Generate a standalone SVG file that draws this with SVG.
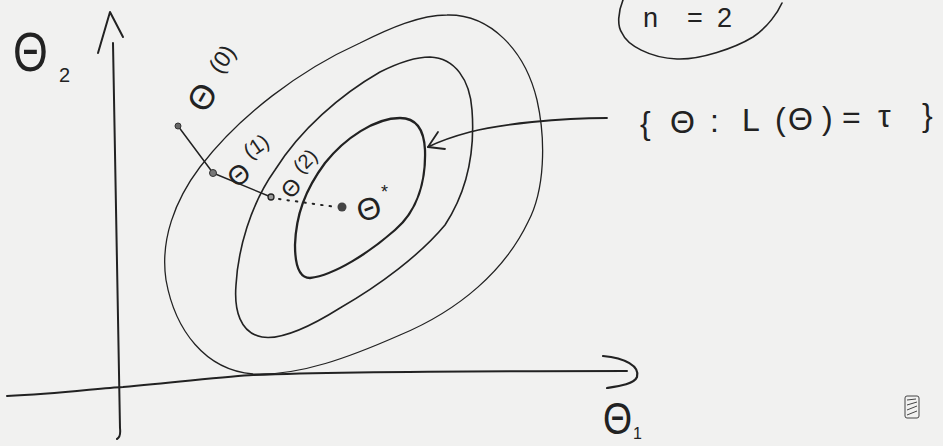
<svg xmlns="http://www.w3.org/2000/svg" width="943" height="446" viewBox="0 0 943 446">
<style>
.ink{fill:none;stroke:#222;stroke-linecap:round;stroke-linejoin:round}
.t{font-family:"Liberation Sans","DejaVu Sans",sans-serif;fill:#222}
.pt{stroke:#333;stroke-width:1}
</style>
<rect width="943" height="446" fill="#f1f1f0"/>
<g id="axes">
<path class="ink" stroke-width="2" d="M117,439 Q121,437 120,428 C118,330 116,200 113,43"/>
<path class="ink" stroke-width="2" d="M98,53 L110,12 L123,37"/>
<path class="ink" stroke-width="2" d="M7,396 C60,394 100,388 123,387 C180,382 230,376 253,375 C330,372 450,371 627,371"/>
<path class="ink" stroke-width="2.2" d="M603,356 C625,358 640,366 637,377 C634,384 620,386 607,388"/>
</g>
<g id="contours">
<path id="outer" class="ink" stroke="#6a6a6a" stroke-width="1.3" d="M447,15 C490,14 525,50 537,100 C546,140 545,190 528,222 C505,270 460,310 400,335 C350,357 300,376 253,374 C205,370 175,330 166,280 C160,240 175,200 200,167 C240,115 300,70 360,43 C390,28 420,15 447,15 Z"/>
<path id="middle" class="ink" stroke="#333" stroke-width="1.6" d="M430,57 C455,58 470,80 472,110 C475,150 468,190 445,225 C420,255 380,285 340,308 C305,330 280,340 262,337 C240,333 234,310 236,285 C238,250 250,205 275,170 C300,130 340,95 380,72 C400,62 415,57 430,57 Z"/>
<path id="inner" class="ink" stroke="#151515" stroke-width="2.3" d="M400,118 C415,118 424,128 425,150 C426,180 418,210 395,230 C370,252 335,275 310,278 C298,278 295,262 295,245 C296,215 305,190 325,163 C345,138 375,118 400,118 Z"/>
</g>
<g id="connectors">
<path class="ink" stroke="#333" stroke-width="1.5" d="M178,126 L213,173 L271,197"/>
<path class="ink" stroke="#333" stroke-width="2" stroke-dasharray="1.5 7" d="M279,199 L336,207"/>
<path class="ink" stroke="#444" stroke-width="1.8" d="M607,118 C560,118 500,124 470,132 C455,136 440,141 428,147"/>
<path class="ink" stroke="#444" stroke-width="1.8" d="M438,132 L428,147 L445,149"/>
</g>
<g id="theta0"><circle class="pt" cx="178" cy="126" r="3" fill="#666"/>
<text class="t" font-size="34" text-anchor="middle" dominant-baseline="central" transform="translate(202,97) rotate(-60)">Θ</text>
<text class="t" font-size="23" text-anchor="middle" dominant-baseline="central" transform="translate(222,59) rotate(-55)">(0)</text></g>
<g id="theta1"><circle class="pt" cx="213" cy="173" r="3.5" fill="#777"/>
<text class="t" font-size="27" text-anchor="middle" dominant-baseline="central" transform="translate(239,175) rotate(-40)">Θ</text>
<text class="t" font-size="21" text-anchor="middle" dominant-baseline="central" transform="translate(256,146) rotate(-35)">(1)</text></g>
<g id="theta2"><circle cx="271" cy="197" r="3" fill="#999" stroke="#222" stroke-width="1.3"/>
<text class="t" font-size="23" text-anchor="middle" dominant-baseline="central" transform="translate(291,188) rotate(-50)">Θ</text>
<text class="t" font-size="20" text-anchor="middle" dominant-baseline="central" transform="translate(305,161) rotate(-45)">(2)</text></g>
<g id="thetastar"><circle cx="342" cy="207" r="4.5" fill="#444"/>
<text class="t" font-size="31" text-anchor="middle" dominant-baseline="central" transform="translate(369,209) rotate(-20)">Θ</text>
<text class="t" font-size="18" x="381" y="198">*</text></g>
<g id="labels">
<text class="t" font-size="56" transform="translate(13,71) scale(0.8,1)">Θ</text>
<text class="t" font-size="20" x="59" y="82">2</text>
<text class="t" font-size="44" transform="translate(603,434) scale(0.85,1)">Θ</text>
<text class="t" font-size="16" x="633" y="439">1</text>
<text class="t" font-size="32" x="640 670 710 742 775 788 822 842 878 922" y="134 133 132 131 130 130 129 128 127 126">{Θ:L(Θ)=τ}</text>
</g>
<g id="n2">
<path class="ink" stroke="#222" stroke-width="1.6" d="M623,0 C618,12 617,26 622,33 C627,45 650,58 677,59 C700,60 735,48 753,37 C768,27 778,12 782,3"/>
<text class="t" font-size="27" x="643 687 717" y="27">n=2</text>
</g>
<g id="stamp" fill="none" stroke="#444" stroke-width="1">
<rect x="905" y="396" width="14" height="22" rx="2"/>
<path d="M907,400 L916,399 M907,405 L917,402 M907,410 L917,406 M907,415 L917,411"/>
</g>
</svg>
